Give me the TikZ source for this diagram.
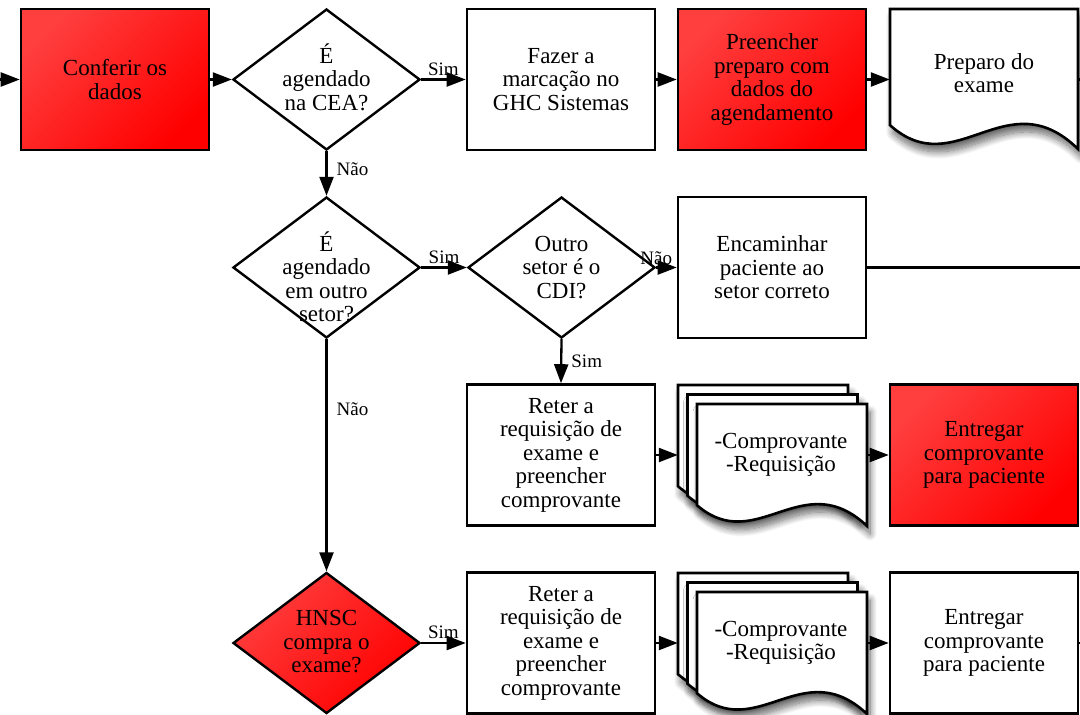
\documentclass[tikz,border=0pt]{standalone}
\usepackage{fontspec}
\setmainfont{Liberation Serif}
\usetikzlibrary{shapes.geometric,arrows.meta,shadows.blur}
\definecolor{redA}{RGB}{255,62,62}
\definecolor{redB}{RGB}{255,0,0}
\tikzset{
  txt/.style={font=\fontsize{23}{23.5}\selectfont, align=center, inner sep=0pt},
  box/.style={draw, line width=2.6pt, minimum width=188pt, minimum height=141pt, txt},
  dia/.style={draw, line width=2.4pt, diamond, minimum width=187pt, minimum height=141pt, inner sep=0pt},
  redfill/.style={top color=redA, bottom color=redB, shading angle=45},
  docarea/.style={minimum width=188pt, minimum height=142pt, inner sep=0pt},
  page/.style={draw, line width=2.6pt, fill=white, line join=miter},
  shad/.style={blur shadow={shadow xshift=3pt, shadow yshift=-8pt, shadow blur steps=12, shadow blur radius=7pt, shadow opacity=60}},
  conn/.style={line width=2.3pt, -{Triangle[length=19pt,width=14pt,fill=black]}},
  plainline/.style={line width=2.3pt},
  lbl/.style={font=\fontsize{19}{20}\selectfont, inner sep=1pt},
}
\newcommand\docpage[4]{%
  \path[page,shad] (#1,#2) -- ({#1+#3},#2) -- ({#1+#3},{#2+#4})
    .. controls ({#1+0.62*#3},{#2+0.5*#4}) and ({#1+0.35*#3},{#2+1.25*#4}) .. (#1,{#2+0.83*#4}) -- cycle;}
\begin{document}
\begin{tikzpicture}[x=1pt,y=-1pt]
\useasboundingbox (0,0) rectangle (1080,715);

% ---- row 1
\coordinate (in) at (-6,79.5);
\node[box, redfill] (conf) at (115,79.5) {Conferir os\\dados};
\node[dia] (d1) at (326.5,79.5) {};
\node[txt] (d1t) at (326.5,77) {É\\agendado\\na CEA?};
\node[box] (fazer) at (561,79.5) {Fazer a\\marcação no\\GHC Sistemas};
\node[box, redfill] (preen) at (772,79.5) {Preencher\\preparo com\\dados do\\agendamento};
\node[docarea] (prep) at (984,79.5) {};
\docpage{890}{9}{188}{140}
\node[txt] (prept) at (984,73) {Preparo do\\exame};
\coordinate (out1) at (1086,79.5);

% ---- row 2
\node[dia] (d2) at (326.5,267.5) {};
\node[txt] (d2t) at (326.5,277) {É\\agendado\\em outro\\setor?};
\node[dia] (d3) at (561.5,267.5) {};
\node[txt] (d3t) at (561.5,267.5) {Outro\\setor é o\\CDI?};
\node[box] (enc) at (772,267.5) {Encaminhar\\paciente ao\\setor correto};
\coordinate (out2) at (1086,267.5);

% ---- row 3
\node[box] (reter1) at (561,455) {Reter a\\requisição de\\exame e\\preencher\\comprovante};
\node[docarea] (m1) at (772,455) {};
\docpage{678}{385}{170}{122}
\docpage{687.5}{394.5}{170}{122}
\docpage{697}{404}{170}{122}
\node[txt] (m1t) at (781,455) {-Comprovante\\-Requisição};
\node[box, redfill] (ent1) at (984,455) {Entregar\\comprovante\\para paciente};

% ---- row 4
\node[dia, redfill] (d4) at (326.5,643) {};
\node[txt] (d4t) at (326.5,642) {HNSC\\compra o\\exame?};
\node[box] (reter2) at (561,643) {Reter a\\requisição de\\exame e\\preencher\\comprovante};
\node[docarea] (m2) at (772,643) {};
\docpage{678}{573}{170}{122}
\docpage{687.5}{582.5}{170}{122}
\docpage{697}{592}{170}{122}
\node[txt] (m2t) at (781,643) {-Comprovante\\-Requisição};
\node[box] (ent2) at (984,643) {Entregar\\comprovante\\para paciente};
\coordinate (out3) at (1086,643);

% ---- connectors
\draw[conn] (in) -- (conf.west);
\draw[conn] (conf.east) -- (d1.west);
\draw[conn] (d1.east) -- node[lbl, midway, above=2pt] {Sim} (fazer.west);
\draw[conn] (fazer.east) -- (preen.west);
\draw[conn] (preen.east) -- (prep.west);
\draw[plainline] (prep.east) -- (out1);

\draw[conn] (d1.south) -- node[lbl, pos=0.4, right=8pt] {Não} (d2.north);
\draw[conn] (d2.east) -- node[lbl, midway, above=2pt] {Sim} (d3.west);
\draw[conn] (d3.east) -- node[lbl, pos=0, above=1pt] {Não} (enc.west);
\draw[plainline] (enc.east) -- (out2);

\draw[conn] (d3.south) -- node[lbl, midway, right=8pt] {Sim} (reter1.north);
\draw[conn] (reter1.east) -- (m1.west);
\draw[conn] (m1.east) -- (ent1.west);

\draw[conn] (d2.south) -- node[lbl, pos=0.3, right=8pt] {Não} (d4.north);
\draw[conn] (d4.east) -- node[lbl, midway, above=2pt] {Sim} (reter2.west);
\draw[conn] (reter2.east) -- (m2.west);
\draw[conn] (m2.east) -- (ent2.west);
\draw[plainline] (ent2.east) -- (out3);
\end{tikzpicture}
\end{document}
